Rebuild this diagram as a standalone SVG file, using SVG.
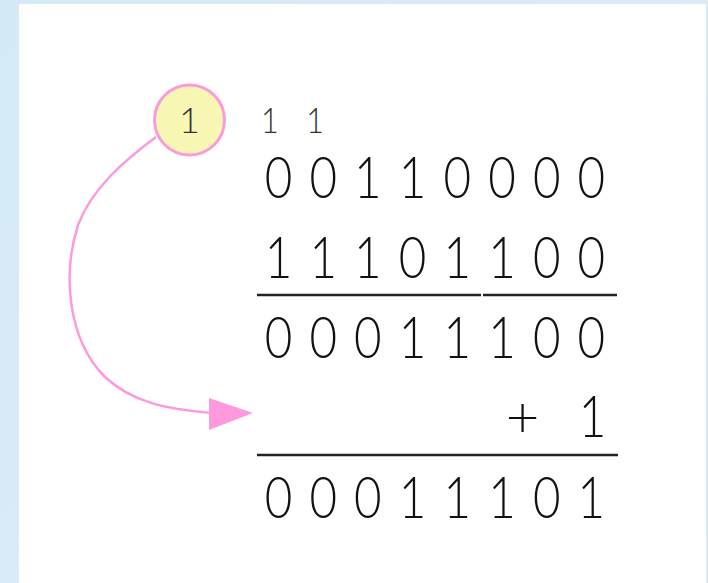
<svg xmlns="http://www.w3.org/2000/svg" width="708" height="583" viewBox="0 0 708 583">
  <style>
    .digits { font-family: "Lato", "Liberation Mono", sans-serif; font-weight: 300; font-size: 58px; fill: #111; text-anchor: middle; }
    .carry { font-family: "Lato", "Liberation Mono", sans-serif; font-weight: 300; font-size: 36px; fill: #333; text-anchor: middle; }
    .rule { stroke: #222; stroke-width: 2.5; fill: none; }
    .conn { stroke: #ff99dd; stroke-width: 2.5; fill: none; }
  </style>
  <defs>
    <linearGradient id="bg" x1="0" y1="0" x2="1" y2="1">
      <stop offset="0" stop-color="#d4eaf7"/>
      <stop offset="1" stop-color="#dcedf8"/>
    </linearGradient>
  </defs>
  <rect x="0" y="0" width="708" height="583" fill="url(#bg)"/>
  <rect x="19" y="4" width="687" height="579" fill="#ffffff"/>

  <g id="connectors">
    <path class="conn" d="M156,137 C125,160 92,188 78,225 C62,275 68,340 105,377 C132,402 165,409 212,413"/>
    <polygon points="209,398 253,413 209,430" fill="#ff99dd"/>
  </g>

  <g id="carry-badge">
    <circle cx="189.5" cy="120" r="35" fill="#f8f8b4" stroke="#ff99dd" stroke-width="3"/>
    <text class="carry" x="189.5" y="133">1</text>
  </g>

  <g id="carries" transform="scale(0.85,1)">
    <text class="carry" x="317.6 370.6" y="133">11</text>
  </g>

  <g id="row1" transform="scale(0.82,1)">
    <text class="digits" x="339.63 394.15 448.66 503.17 557.68 612.20 666.71 721.22" y="198">00110000</text>
  </g>
  <g id="row2" transform="scale(0.82,1)">
    <text class="digits" x="339.63 394.15 448.66 503.17 557.68 612.20 666.71 721.22" y="278">11101100</text>
  </g>
  <g id="rule1">
    <line class="rule" x1="257" y1="295" x2="481" y2="295"/>
    <line class="rule" x1="483" y1="295" x2="617" y2="295"/>
  </g>
  <g id="row3" transform="scale(0.82,1)">
    <text class="digits" x="339.63 394.15 448.66 503.17 557.68 612.20 666.71 721.22" y="358">00011100</text>
  </g>
  <g id="row4">
    <text class="digits" x="522.5" y="437">+</text>
    <text class="digits" x="722.56" y="437" transform="scale(0.82,1)">1</text>
  </g>
  <g id="rule2">
    <line class="rule" x1="257" y1="455" x2="618" y2="455"/>
  </g>
  <g id="row5" transform="scale(0.82,1)">
    <text class="digits" x="339.63 394.15 448.66 503.17 557.68 612.20 666.71 721.22" y="518">00011101</text>
  </g>
</svg>
